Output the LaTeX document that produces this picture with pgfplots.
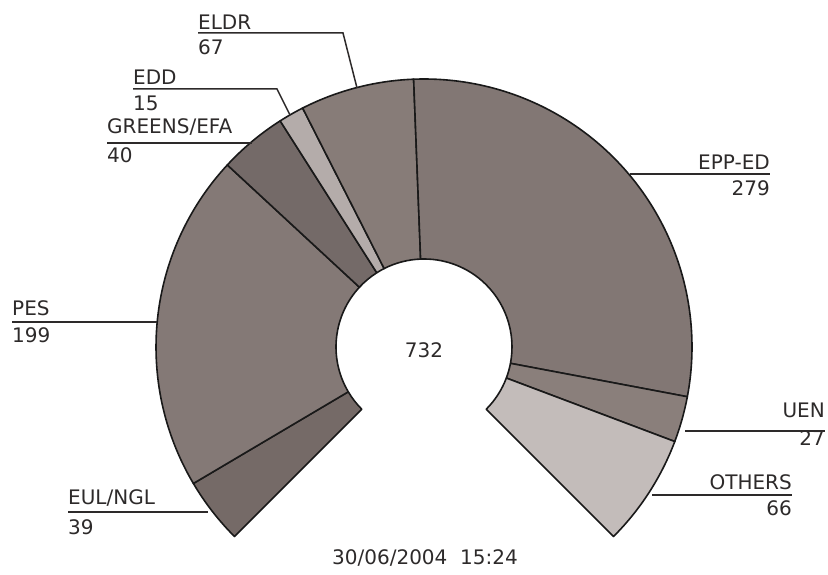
\documentclass[border=0pt]{standalone}
\usepackage{fontspec}
\setmainfont{DejaVu Sans}
\usepackage{pgfplots}
\usepackage{pgfplotstable}
\pgfplotsset{compat=1.18}

\definecolor{cEUL}{RGB}{117,106,103}
\definecolor{cPES}{RGB}{132,121,118}
\definecolor{cGRN}{RGB}{116,106,104}
\definecolor{cEDD}{RGB}{180,172,170}
\definecolor{cELDR}{RGB}{135,124,120}
\definecolor{cEPP}{RGB}{130,119,116}
\definecolor{cUEN}{RGB}{138,127,123}
\definecolor{cOTH}{RGB}{195,188,186}
\definecolor{txt}{RGB}{45,42,42}

% seats per group, clockwise from the bottom left
\pgfplotstableread{
party value color
EUL/NGL 39 cEUL
PES 199 cPES
GREENS/EFA 40 cGRN
EDD 15 cEDD
ELDR 67 cELDR
EPP-ED 279 cEPP
UEN 27 cUEN
OTHERS 66 cOTH
}\seats

\begin{document}
\begin{tikzpicture}[
  lab/.style={font=\fontsize{20bp}{23bp}\selectfont, text=txt, inner sep=0pt},
  labline/.style={draw=txt, line width=1.5bp},
]
\useasboundingbox (0,0) rectangle (828bp,575bp);
\begin{axis}[
  at={(0,0)}, anchor=south west,
  scale only axis, width=828bp, height=575bp,
  xmin=0, xmax=828, ymin=0, ymax=575,
  hide axis, clip=false,
]
\def\cum{0}
\pgfplotsforeachungrouped \i in {0,...,7}{%
  \pgfplotstablegetelem{\i}{value}\of\seats \let\v=\pgfplotsretval
  \pgfplotstablegetelem{\i}{color}\of\seats \let\c=\pgfplotsretval
  \pgfmathsetmacro\aS{225-\cum/732*270}%
  \pgfmathsetmacro\cum{\cum+\v}%
  \pgfmathsetmacro\aE{225-\cum/732*270}%
  \edef\temp{\noexpand\filldraw[shift={(axis cs:424,228)}, fill=\c, draw=black!90, line width=1.6bp, line join=round]
    (\aS:268bp) arc[start angle=\aS, end angle=\aE, radius=268bp]
    -- (\aE:88bp) arc[start angle=\aE, end angle=\aS, radius=88bp] -- cycle;}%
  \temp
}

% labels with leader lines
\draw[labline] (axis cs:198,542) -- (axis cs:343,542) -- (axis cs:357,487);
\node[lab, anchor=west] at (axis cs:198,553) {ELDR};
\node[lab, anchor=west] at (axis cs:198,528) {67};

\draw[labline] (axis cs:133,486) -- (axis cs:277,486) -- (axis cs:290,460);
\node[lab, anchor=west] at (axis cs:133,498) {EDD};
\node[lab, anchor=west] at (axis cs:133,472) {15};

\draw[labline] (axis cs:107,432) -- (axis cs:252,432);
\node[lab, anchor=west] at (axis cs:107,448) {GREENS/EFA};
\node[lab, anchor=west] at (axis cs:107,420) {40};

\draw[labline] (axis cs:12,253) -- (axis cs:157,253);
\node[lab, anchor=west] at (axis cs:12,267) {PES};
\node[lab, anchor=west] at (axis cs:12,240) {199};

\draw[labline] (axis cs:68,63) -- (axis cs:208,63);
\node[lab, anchor=west] at (axis cs:68,77) {EUL/NGL};
\node[lab, anchor=west] at (axis cs:68,48) {39};

\draw[labline] (axis cs:630,401) -- (axis cs:770,401);
\node[lab, anchor=east] at (axis cs:770,413) {EPP-ED};
\node[lab, anchor=east] at (axis cs:770,387) {279};

\draw[labline] (axis cs:685,144) -- (axis cs:825,144);
\node[lab, anchor=east] at (axis cs:825,165) {UEN};
\node[lab, anchor=east] at (axis cs:825,137) {27};

\draw[labline] (axis cs:652,80) -- (axis cs:792,80);
\node[lab, anchor=east] at (axis cs:792,93) {OTHERS};
\node[lab, anchor=east] at (axis cs:792,67) {66};

\node[lab] at (axis cs:424,225) {732};
\node[lab] at (axis cs:425,17) {30/06/2004\ \ 15:24};
\end{axis}
\end{tikzpicture}
\end{document}
